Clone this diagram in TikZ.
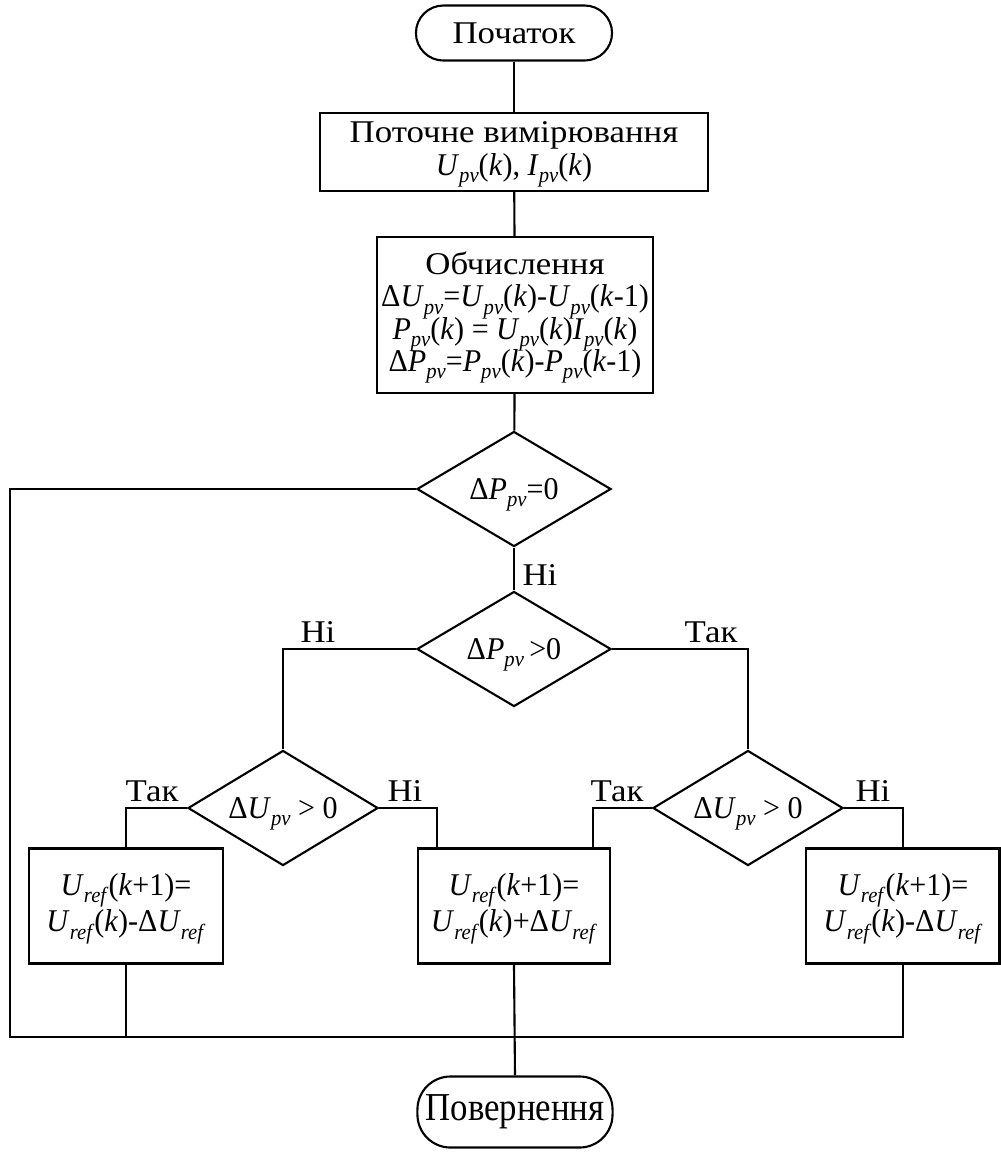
\documentclass[tikz,border=0pt]{standalone}
\usepackage{fontspec}
\setmainfont{Liberation Serif}[FakeStretch=1.1]
\newfontfamily\fcond[FakeStretch=0.95]{Liberation Serif}
\usetikzlibrary{shapes.geometric, positioning, calc}
\newcommand{\vr}[2]{\textit{#1}\raisebox{-0.5ex}[0pt][0pt]{\fontsize{6.2}{6}\selectfont\textit{#2}}}
\newcommand{\kk}{\textit{k}}

\begin{document}
\begin{tikzpicture}[x=0.01cm, y=-0.01cm, line width=0.6pt,
    every node/.style={font=\fontsize{9}{9.2}\selectfont},
    frm/.style={font=\fontsize{9}{10.4}\fcond},
    term/.style={draw, rounded corners=0.275cm, minimum width=1.96cm, minimum height=0.55cm, inner sep=0pt},
    block/.style={draw, align=center, inner sep=0pt},
    cond/.style={draw, diamond, aspect=1.69, inner sep=0pt, minimum width=1.94cm, minimum height=1.15cm, frm},
    lbl/.style={inner sep=0pt}]
    \useasboundingbox (0,0) rectangle (1001,1156);

    % Blocks
    \node[term] (start) at (514,33) {Початок};
    \node[block, minimum width=3.88cm, minimum height=0.78cm] (meas) at (514,152)
        {Поточне вимірювання\\ {\fcond\vr{U}{pv}(\kk), \vr{I}{pv}(\kk)}};
    \node[block, minimum width=2.75cm, minimum height=1.56cm] (calc) at (515,315)
        {Обчислення\\
         {\fcond Δ\vr{U}{pv}=\vr{U}{pv}(\kk)-\vr{U}{pv}(\kk-1)}\\
         {\fcond\vr{P}{pv}(\kk) = \vr{U}{pv}(\kk)\vr{I}{pv}(\kk)}\\
         {\fcond Δ\vr{P}{pv}=\vr{P}{pv}(\kk)-\vr{P}{pv}(\kk-1)}};

    % Decisions
    \node[cond] (d1) at (514,489) {Δ\vr{P}{pv}=0};
    \node[cond] (d2) at (514,649) {Δ\vr{P}{pv}\,>0};
    \node[cond, minimum width=1.9cm] (d3) at (283,808) {Δ\vr{U}{pv} > 0};
    \node[cond, minimum width=1.9cm] (d4) at (748,808) {Δ\vr{U}{pv} > 0};

    % Updates
    \node[block, frm, minimum width=1.93cm, minimum height=1.15cm] (b3) at (126,906)
        {\vr{U}{ref}(\kk+1)=\\ \vr{U}{ref}(\kk)-Δ\vr{U}{ref}};
    \node[block, frm, minimum width=1.92cm, minimum height=1.15cm] (b4) at (514,906)
        {\vr{U}{ref}(\kk+1)=\\ \vr{U}{ref}(\kk)+Δ\vr{U}{ref}};
    \node[block, frm, minimum width=1.93cm, minimum height=1.15cm] (b5) at (903,906)
        {\vr{U}{ref}(\kk+1)=\\ \vr{U}{ref}(\kk)-Δ\vr{U}{ref}};

    \node[term, rounded corners=0.33cm, minimum width=1.95cm, minimum height=0.71cm] (stop) at (515,1112)
        {\scalebox{1.0}[1.25]{Повернення}};

    % Labels
    \node[lbl] (n1) at (540,575) {Ні};
    \node[lbl] (n2) at (318,632) {Ні};
    \node[lbl] (y2) at (711,632) {Так};
    \node[lbl] (y3) at (152,791) {Так};
    \node[lbl] (n3) at (405,791) {Ні};
    \node[lbl] (y4) at (617,791) {Так};
    \node[lbl] (n4) at (873,791) {Ні};

    \coordinate (loopL) at (10,1037);
    \coordinate (join) at (514,1037);

    % Connectors
    \draw (start) -- (meas);
    \draw (meas) -- (calc);
    \draw (calc) -- (d1);
    \draw (d1) -- (d2);
    \draw (d2.west) -| (d3.north);
    \draw (d2.east) -| (d4.north);
    \draw (d3.west) -| (b3.north);
    \draw (d3.east) -| ([xshift=-0.77cm]b4.north);
    \draw (d4.west) -| ([xshift=0.79cm]b4.north);
    \draw (d4.east) -| (b5.north);
    \draw (d1.west) -| (loopL) -- (b5.south |- loopL) -- (b5.south);
    \draw (b3.south) -- (b3.south |- loopL);
    \draw (b4.south) -- (stop.north);
\end{tikzpicture}
\end{document}
